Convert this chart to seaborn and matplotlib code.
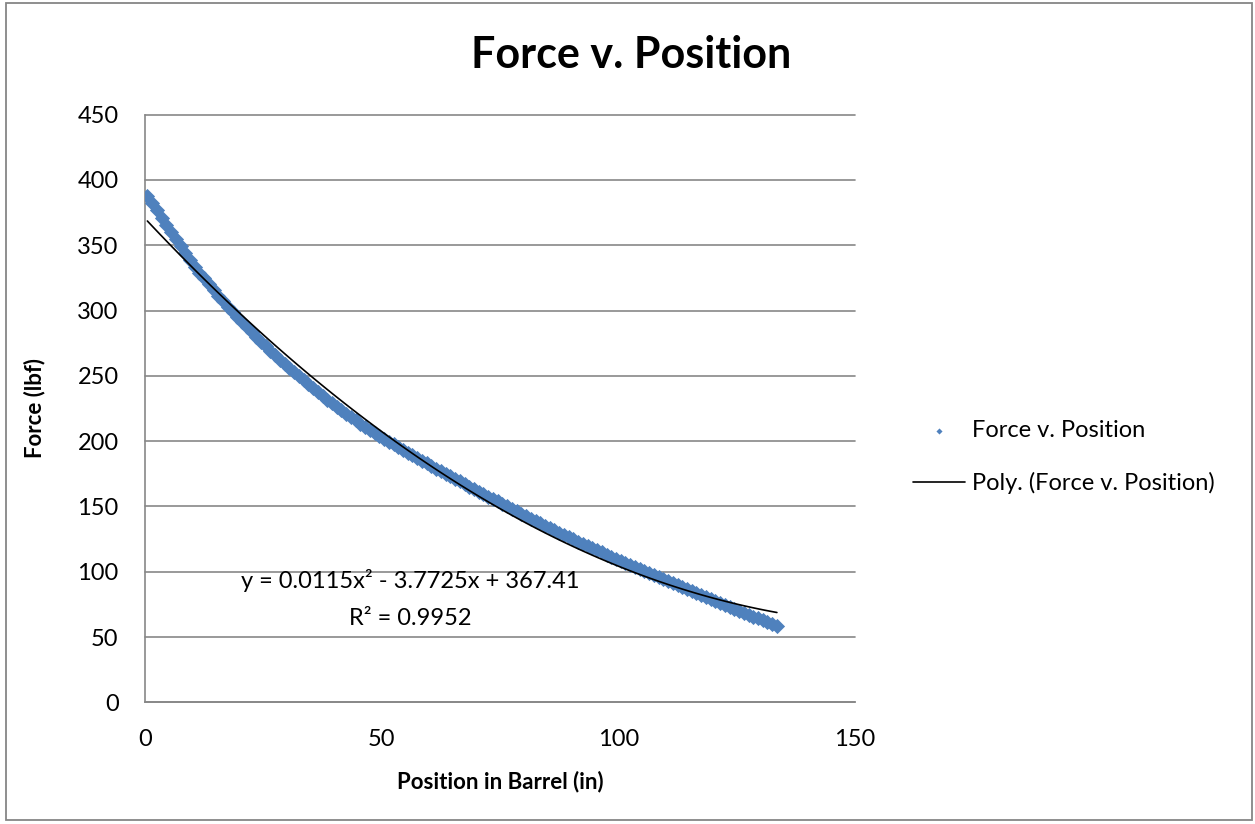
import numpy as np
import pandas as pd
import matplotlib
matplotlib.use("Agg")
import matplotlib.pyplot as plt
import seaborn as sns
from matplotlib.patches import Rectangle

# positions in the barrel (in), sampled every inch starting at 0.5
position = np.arange(0.5, 134.0, 1.0)

# force (lbf) at each position above
force = [
    388.0, 382.4, 376.8, 371.2, 365.6, 360.1, 354.7, 349.3, 343.9, 338.5,
    333.6, 329.1, 324.6, 320.1, 315.6, 311.3, 307.2, 303.1, 299.0, 294.9,
    291.0, 287.3, 283.6, 279.9, 276.2, 272.6, 269.2, 265.8, 262.4, 259.0,
    255.8, 252.7, 249.6, 246.5, 243.4, 240.4, 237.5, 234.7, 231.8, 229.0,
    226.3, 223.7, 221.1, 218.5, 215.9, 213.4, 211.0, 208.7, 206.3, 204.0,
    201.8, 199.7, 197.6, 195.5, 193.4, 191.3, 189.2, 187.1, 185.0, 182.9,
    180.8, 178.9, 176.9, 175.0, 173.0, 171.1, 169.1, 167.2, 165.2, 163.3,
    161.4, 159.5, 157.6, 155.7, 153.8, 151.9, 150.0, 148.1, 146.2, 144.3,
    142.4, 140.6, 138.9, 137.1, 135.3, 133.5, 131.7, 129.9, 128.2, 126.4,
    124.7, 123.0, 121.4, 119.7, 118.1, 116.4, 114.8, 113.1, 111.5, 109.8,
    108.2, 106.7, 105.1, 103.6, 102.0, 100.5, 98.9, 97.4, 95.8, 94.3,
    92.7, 91.2, 89.6, 88.1, 86.5, 85.0, 83.4, 81.9, 80.3, 78.8,
    77.3, 75.8, 74.4, 72.9, 71.5, 70.0, 68.6, 67.1, 65.7, 64.2,
    62.8, 61.3, 59.9, 58.4,
]

x_ticks = [0, 50, 100, 150]
y_ticks = [0, 50, 100, 150, 200, 250, 300, 350, 400, 450]
eq_text = "y = 0.0115x\u00b2 - 3.7725x + 367.41"
r2_text = "R\u00b2 = 0.9952"

df = pd.DataFrame({"pos": position, "force": force})

sns.set_theme(style="white")
plt.rcParams["font.family"] = ["Lato", "DejaVu Sans"]
plt.rcParams["text.color"] = "black"
plt.rcParams["axes.labelcolor"] = "black"

W, H = 1255, 824
fig = plt.figure(figsize=(W / 100, H / 100), dpi=100)
fig.patches.append(Rectangle((6 / W, 4 / H), 1246 / W, 817 / H, transform=fig.transFigure,
                             fill=False, edgecolor="#868686", linewidth=1.3))

ax = fig.add_axes([145 / W, 1 - 702.3 / H, 710 / W, 587.6 / H])

sns.scatterplot(data=df, x="pos", y="force", ax=ax, marker="D", s=60, color="#4F81BD",
                linewidth=0, label="Force v. Position", zorder=3)
sns.regplot(data=df, x="pos", y="force", ax=ax, order=2, scatter=False, ci=None,
            line_kws={"color": "black", "linewidth": 1.2, "zorder": 4},
            label="Poly. (Force v. Position)")

ax.set_xlim(0, 150)
ax.set_ylim(0, 450)
ax.set_xticks(x_ticks)
ax.set_yticks(y_ticks)
ax.tick_params(axis="both", length=0, labelsize=17, colors="black")
ax.tick_params(axis="x", pad=19)
ax.tick_params(axis="y", pad=19)

ax.grid(axis="y", color="#878787", linewidth=1.2)
for gl in ax.get_ygridlines():
    gl.set_clip_on(False)
ax.set_axisbelow(True)
for side in ["top", "right"]:
    ax.spines[side].set_visible(False)
for side in ["left", "bottom"]:
    ax.spines[side].set_color("#878787")
    ax.spines[side].set_linewidth(1.2)

ax.set_xlabel("Position in Barrel (in)", fontsize=16, fontweight="bold", labelpad=15)
ax.set_ylabel("Force (lbf)", fontsize=16, fontweight="bold", labelpad=23)

ax.text(56, 92.9, eq_text, fontsize=17, ha="center", va="center")
ax.text(56, 64.5, r2_text, fontsize=17, ha="center", va="center")

fig.text(631 / W, 1 - 55 / H, "Force v. Position", fontsize=31, fontweight="bold",
         ha="center", va="center")

ax.legend(loc="center left", bbox_to_anchor=(913 / W, 1 - 457 / H),
          bbox_transform=fig.transFigure, frameon=False, fontsize=17,
          handlelength=2.2, handletextpad=0.3, labelspacing=1.3, markerscale=0.4,
          borderpad=0, borderaxespad=0)

fig.savefig("out.png", dpi=100)
